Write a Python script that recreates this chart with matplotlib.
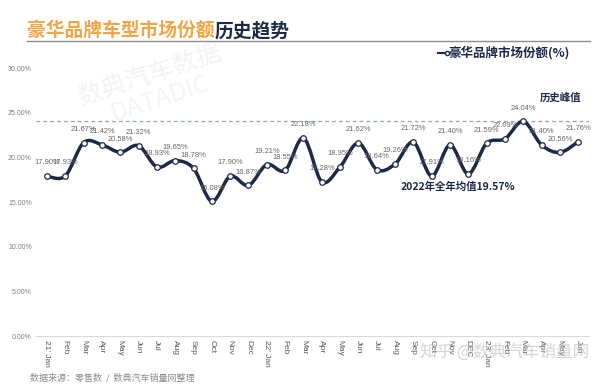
import numpy as np
import matplotlib
matplotlib.use('Agg')
import matplotlib.pyplot as plt
from matplotlib.path import Path
from matplotlib.patches import PathPatch

plt.rcParams['font.family'] = ['Noto Sans CJK SC', 'DejaVu Sans']

# 数据
months = ["21' Jan", 'Feb', 'Mar', 'Apr', 'May', 'Jun', 'Jul', 'Aug', 'Sep', 'Oct', 'Nov', 'Dec',
          "22' Jan", 'Feb', 'Mar', 'Apr', 'May', 'Jun', 'Jul', 'Aug', 'Sep', 'Oct', 'Nov', 'DEC',
          "23' Jan", 'Feb', 'Mar', 'Apr', 'May', 'Jun']
share = [17.90, 17.93, 21.67, 21.42, 20.58, 21.32, 18.93, 19.65, 18.78, 15.08, 17.90, 16.87,
         19.21, 18.55, 22.18, 17.28, 18.95, 21.62, 18.64, 19.26, 21.72, 17.91, 21.40, 18.16,
         21.59, 22.09, 24.04, 21.40, 20.56, 21.76]
peak = 24.04
avg_2022 = 19.57

navy = '#1c2a48'
orange = '#f3a445'
gray = '#7f7f7f'

fig = plt.figure(figsize=(6, 3.85), dpi=100)
ax = fig.add_axes([0.06, 0.127, 0.922, 0.696])

x = np.arange(len(share))
y = np.array(share) / 100

# 平滑曲线 (Catmull-Rom -> Bezier)
pts = np.column_stack([x, y])
verts = [pts[0]]
codes = [Path.MOVETO]
n = len(pts)
for i in range(n - 1):
    p0 = pts[max(i - 1, 0)]
    p1 = pts[i]
    p2 = pts[i + 1]
    p3 = pts[min(i + 2, n - 1)]
    verts += [p1 + (p2 - p0) / 6, p2 - (p3 - p1) / 6, p2]
    codes += [Path.CURVE4] * 3
ax.add_patch(PathPatch(Path(verts, codes), fill=False, ec=navy, lw=2.5, zorder=3,
                       capstyle='round', joinstyle='round'))
ax.plot(x, y, ls='none', marker='o', ms=4, mfc='white', mec=navy, mew=0.9, zorder=4)

for xi, yi, v in zip(x, y, share):
    ax.annotate(f'{v:.2f}%', (xi, yi), xytext=(0, 7), textcoords='offset points',
                ha='center', va='bottom', fontsize=5.4, color='#666666',
                family='Liberation Sans', zorder=5)

ax.axhline(peak / 100, color='#8fa4c0', lw=0.9, ls=(0, (3, 2.5)), zorder=2)

ax.set_xlim(-0.6, len(share) - 0.4)
ax.set_ylim(0, 0.30)
yt = np.arange(0, 0.301, 0.05)
ax.set_yticks(yt)
ax.set_yticklabels([f'{t*100:.2f}%' for t in yt], fontsize=5, color=gray, family='Liberation Sans')
ax.set_xticks(x)
ax.set_xticklabels(months, rotation=270, fontsize=6, color='#595959', family='Liberation Sans')
ax.tick_params(length=0, pad=3)
for s in ['top', 'right', 'left']:
    ax.spines[s].set_visible(False)
ax.spines['bottom'].set_color('#d9d9d9')

# 标题
t1 = fig.text(27 / 600, 1 - 36 / 385, '豪华品牌车型市场份额', fontsize=13.5, fontweight='bold',
              color=orange, va='baseline')
ax.annotate('历史趋势', xy=(1, 0), xycoords=t1, fontsize=13.5, fontweight='bold',
            color=navy, va='bottom', ha='left', annotation_clip=False)
fig.add_artist(plt.Line2D([27 / 600, 590 / 600], [1 - 41 / 385] * 2, color='#8c8c8c', lw=1))

# 图例
fig.add_artist(plt.Line2D([438 / 600, 447 / 600], [1 - 53 / 385] * 2, color=navy, lw=1.5,
                          marker='o', ms=3, mfc='white', mec=navy, markevery=[1]))
fig.text(448 / 600, 1 - 53 / 385, '豪华品牌市场份额(%)', fontsize=9, fontweight='bold',
         color=navy, va='center', ha='left')

# 标注
fig.text(561 / 600, 1 - 98 / 385, '历史峰值', fontsize=7.5, fontweight='bold', color=navy,
         ha='center', va='center')
fig.text(458 / 600, 1 - 187 / 385, f'2022年全年均值{avg_2022:.2f}%', fontsize=7.5,
         fontweight='bold', color=navy, ha='center', va='center')

# 来源 / 水印
fig.text(30 / 600, 1 - 378 / 385, '数据来源：零售数  /  数典汽车销量网整理', fontsize=6.5,
         color='#8c8c8c', va='center')
fig.text(505 / 600, 1 - 352 / 385, '知乎 @数典汽车销量网', fontsize=12, color='#c4c4c4',
         alpha=0.7, ha='center', va='center')
fig.text(150 / 600, 1 - 75 / 385, '数典汽车数据', fontsize=18, color='#f3f3f3', rotation=18,
         ha='center', va='center', zorder=0)
fig.text(160 / 600, 1 - 98 / 385, 'DATADIC', fontsize=18, color='#f4f4f4', rotation=18,
         ha='center', va='center', zorder=0)

fig.savefig('out.png', dpi=100)
